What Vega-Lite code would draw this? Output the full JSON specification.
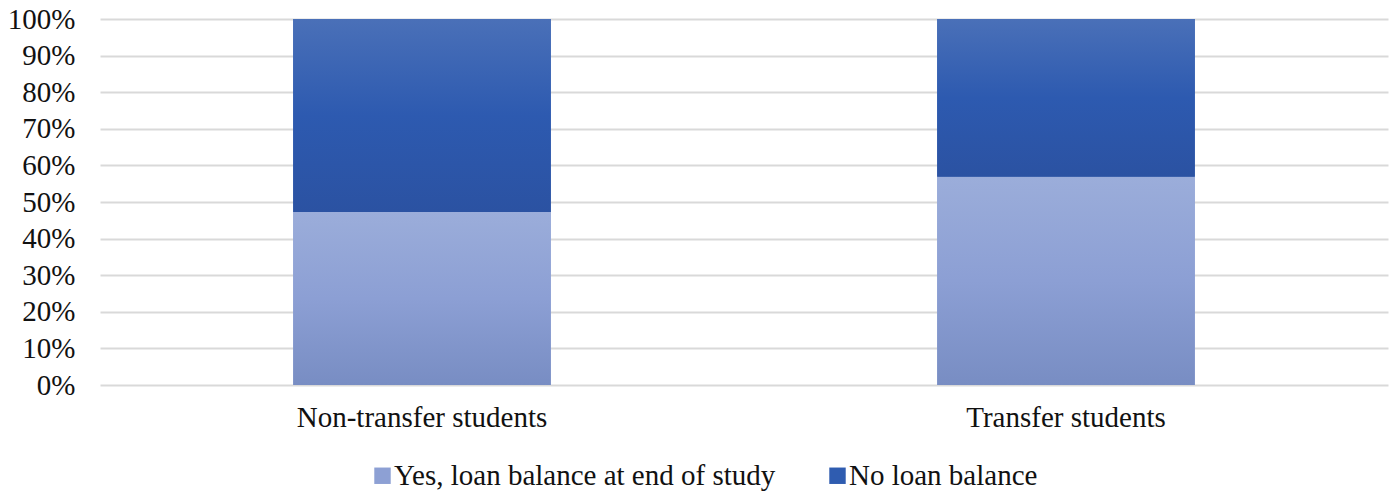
{
  "$schema": "https://vega.github.io/schema/vega-lite/v6.json",
  "width": 1288,
  "height": 366,
  "autosize": {"type": "none"},
  "padding": {"left": 100, "top": 19, "right": 12, "bottom": 111},
  "background": "white",
  "config": {
    "view": {"stroke": null},
    "font": "Liberation Serif",
    "axis": {"labelFont": "Liberation Serif"},
    "legend": {"labelFont": "Liberation Serif"}
  },
  "data": {
    "values": [
      {"group": "Non-transfer students", "status": "Yes, loan balance at end of study", "ord": 1, "share": 0.473},
      {"group": "Non-transfer students", "status": "No loan balance", "ord": 2, "share": 0.527},
      {"group": "Transfer students", "status": "Yes, loan balance at end of study", "ord": 1, "share": 0.569},
      {"group": "Transfer students", "status": "No loan balance", "ord": 2, "share": 0.431}
    ]
  },
  "encoding": {
    "x": {
      "field": "group",
      "type": "nominal",
      "scale": {"paddingInner": 0.6, "paddingOuter": 0.3},
      "axis": {
        "title": null,
        "labelAngle": 0,
        "labelFont": "Liberation Serif",
        "labelFontSize": 29,
        "labelColor": "#111111",
        "labelPadding": 18,
        "labelLimit": 600,
        "ticks": false,
        "domain": false,
        "grid": false
      }
    },
    "y": {
      "field": "share",
      "type": "quantitative",
      "stack": "zero",
      "scale": {"domain": [0, 1], "nice": false},
      "axis": {
        "title": null,
        "format": ".0%",
        "values": [0, 0.1, 0.2, 0.3, 0.4, 0.5, 0.6, 0.7, 0.8, 0.9, 1],
        "labelFont": "Liberation Serif",
        "labelFontSize": 29,
        "labelColor": "#111111",
        "labelPadding": 25,
        "ticks": false,
        "domain": false,
        "gridColor": "#d9d9d9",
        "gridWidth": 2
      }
    },
    "order": {"field": "ord", "type": "quantitative"},
    "detail": {"field": "status", "type": "nominal"}
  },
  "layer": [
    {
      "mark": {"type": "bar"},
      "encoding": {
        "fill": {
          "field": "status",
          "type": "nominal",
          "scale": {
            "domain": ["Yes, loan balance at end of study", "No loan balance"],
            "range": ["#8da0d4", "#2f5cb0"]
          },
          "legend": {
            "title": null,
            "orient": "none",
            "direction": "horizontal",
            "legendX": 268,
            "legendY": 442,
            "symbolType": "square",
            "symbolSize": 270,
            "symbolStrokeWidth": 0,
            "labelFont": "Liberation Serif",
            "labelFontSize": 29,
            "labelColor": "#111111",
            "labelOffset": -3,
            "columnPadding": 47,
            "labelLimit": 600
          }
        }
      }
    },
    {
      "mark": {"type": "bar"},
      "encoding": {
        "fill": {
          "condition": {
            "test": "datum.status === 'No loan balance'",
            "value": {
              "gradient": "linear",
              "x1": 0, "y1": 0, "x2": 0, "y2": 1,
              "stops": [
                {"offset": 0, "color": "#4a70b8"},
                {"offset": 0.5, "color": "#2d5ab0"},
                {"offset": 1, "color": "#2b52a2"}
              ]
            }
          },
          "value": {
            "gradient": "linear",
            "x1": 0, "y1": 0, "x2": 0, "y2": 1,
            "stops": [
              {"offset": 0, "color": "#9badda"},
              {"offset": 0.5, "color": "#8c9fd4"},
              {"offset": 1, "color": "#788dc3"}
            ]
          }
        }
      }
    }
  ]
}
